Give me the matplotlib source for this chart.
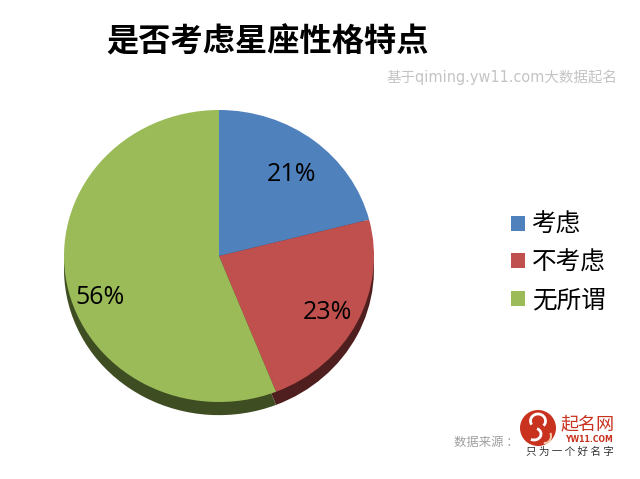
import matplotlib
matplotlib.use("Agg")
import matplotlib.pyplot as plt
from matplotlib.patches import Circle, Arc

plt.rcParams['font.family'] = ['Noto Sans CJK SC', 'DejaVu Sans']

categories = ['考虑', '不考虑', '无所谓']
values = [21, 23, 56]
colors = ['#4f81bd', '#c0504d', '#9bbb59']
side_colors = ['#27405e', '#4f1f1f', '#3f4d22']

W, H = 640, 479
fig = plt.figure(figsize=(W / 100, H / 100), dpi=100, facecolor='white')

# axes sits exactly on the pie ellipse, extra room below for the side wall
ax = fig.add_axes([64 / W, 1 - 402 / H, 310 / W, 292 / H])
depth = 0.09
ax.pie(values, colors=side_colors, startangle=90, counterclock=False, radius=1,
       center=(0, -depth), wedgeprops={'linewidth': 0})
wedges, _, pcts = ax.pie(values, colors=colors, startangle=90, counterclock=False, radius=1,
                         autopct='%.0f%%', pctdistance=0.77, wedgeprops={'linewidth': 0},
                         textprops={'fontsize': 18, 'color': 'black',
                                    'family': ['Open Sans', 'DejaVu Sans']})
ax.set_aspect('auto')
ax.set_xlim(-1, 1)
ax.set_ylim(-1, 1)
ax.axis('off')
for w in ax.patches:
    w.set_clip_on(False)

# the labels are not on the mid radius in the original, nudge them
pcts[0].set_position((0.47, 0.56))
pcts[1].set_position((0.70, -0.385))
pcts[2].set_position((-0.765, -0.285))

fig.text(268 / W, 1 - 42 / H, '是否考虑星座性格特点', fontsize=23.2, fontweight='bold',
         ha='center', va='center', color='black')
fig.text(386 / W, 1 - 77 / H, '基于qiming.yw11.com大数据起名', fontsize=10.45, color='#c4c4c4',
         ha='left', va='center', family=['DejaVu Sans', 'Noto Sans CJK SC'])

fig.legend(wedges, categories, loc='center left', bbox_to_anchor=(501 / W, 1 - 262.5 / H),
           frameon=False, fontsize=17.7, handlelength=0.57, handleheight=0.57, handletextpad=0.3,
           labelspacing=0.47, borderpad=0.4, borderaxespad=0)

fig.text(454 / W, 1 - 442 / H, '数据来源 ：', fontsize=8.9, color='#a0a0a0', ha='left', va='center')

# logo, drawn in figure pixels
logo = fig.add_axes([0, 0, 1, 1], facecolor='none')
logo.set_xlim(0, W)
logo.set_ylim(H, 0)
logo.set_aspect('equal')
logo.axis('off')
logo.add_patch(Circle((538, 428), 18, color='#c8321f', lw=0))
logo.add_patch(Arc((538, 421), 15, 14, theta1=150, theta2=400, color='white', lw=2))
logo.add_patch(Arc((534, 434), 14, 12, theta1=-60, theta2=120, color='white', lw=2))
logo.add_patch(Arc((545, 436), 12, 14, theta1=-30, theta2=100, color='#f3c9a8', lw=1.5))
logo.text(587.5, 424, '起名网', fontsize=13, color='#c8321f', ha='center', va='center')
logo.text(589, 439.5, 'YW11.COM', fontsize=5.6, color='#c8321f', fontweight='bold', ha='center', va='center',
          family='DejaVu Sans')
logo.text(570, 452, '只 为 一 个 好 名 字', fontsize=7.6, color='#333333', ha='center', va='center')

fig.savefig('out.png', dpi=100, facecolor='white')
